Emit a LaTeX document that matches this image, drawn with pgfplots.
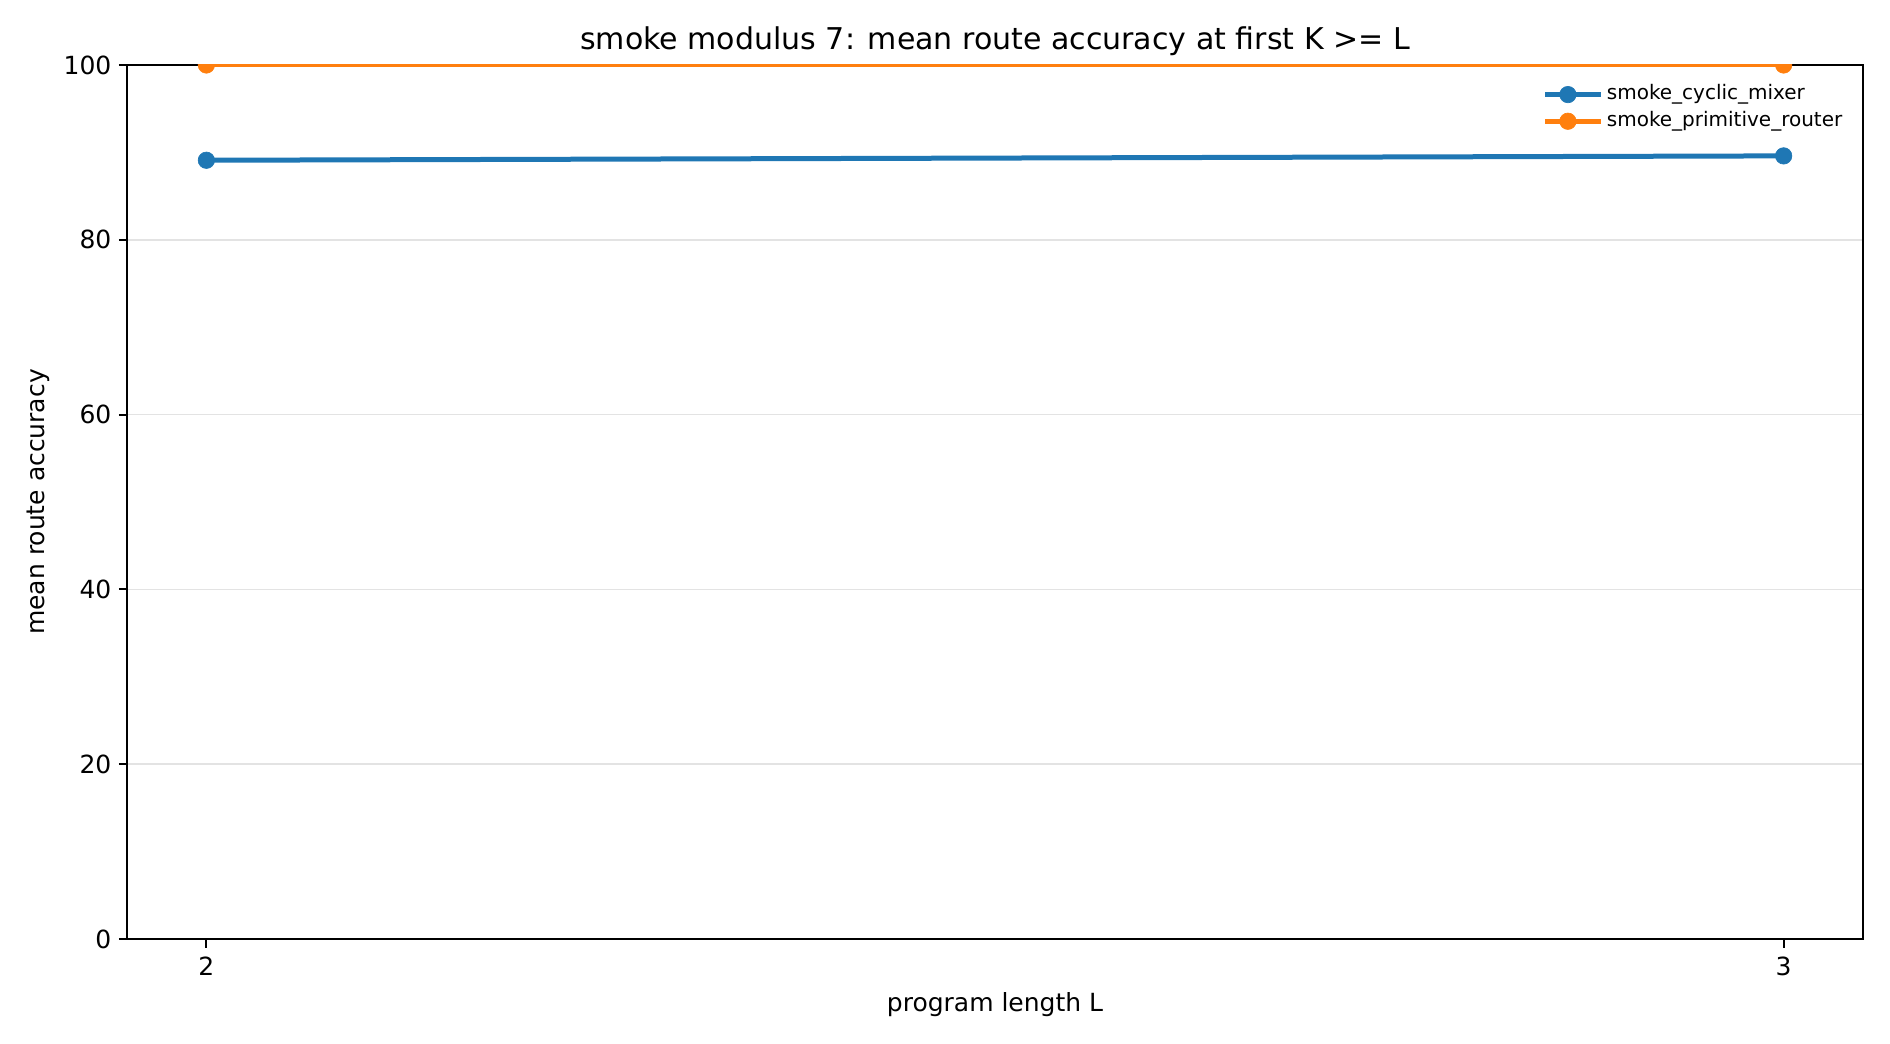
\documentclass[border=0pt]{standalone}
\usepackage{fontspec}
\setmainfont{DejaVu Sans}
\usepackage{pgfplots}
\pgfplotsset{compat=1.18}
\definecolor{mplblue}{HTML}{1F77B4}
\definecolor{mplorange}{HTML}{FF7F0E}
\begin{document}
\begin{tikzpicture}
\path[use as bounding box] (-61.2pt,-50.4pt) rectangle (846pt,450.7pt);
\begin{axis}[
scale only axis,
width=832.8pt,
height=419.5pt,
xmin=1.95, xmax=3.05,
ymin=0, ymax=100,
xtick={2,3},
ytick={0,20,40,60,80,100},
ymajorgrids,
grid style={gray!22, line width=0.7pt},
axis line style={line width=0.96pt},
tick style={black, line width=0.96pt},
tick align=outside,
major tick length=4.2pt,
xtick pos=bottom, ytick pos=left,
tick label style={font=\fontsize{12}{14}\selectfont},
xticklabel style={yshift=-1pt},
/pgf/number format/assume math mode=true,
xlabel={program length L},
ylabel={mean route accuracy},
label style={font=\fontsize{12}{14}\selectfont},
xlabel style={at={(axis description cs:0.5,0)}, anchor=base, yshift=-35pt},
ylabel style={at={(axis description cs:-0.0514,0.5)}, anchor=center},
title={smoke modulus 7: mean route accuracy at first K >= L},
title style={font=\fontsize{14.4}{17}\selectfont, at={(axis description cs:0.5,1)}, anchor=base, yshift=1.2pt},
clip mode=individual,
clip marker paths=true,
legend style={draw=none, fill=none, font=\fontsize{9.6}{11}\selectfont,
  at={(axis description cs:1,1)}, anchor=north east, xshift=-8pt, yshift=-8pt,
  inner sep=0pt, row sep=0.8pt,
  nodes={inner sep=1.5pt, text height=7pt, text depth=2pt},
  legend cell align=left},
legend image code/.code={
  \path (0pt,0pt) -- (27pt,0pt);
  \draw[#1, mark=none] (0pt,0pt) -- (22pt,0pt);
  \draw[#1, only marks] plot coordinates {(11pt,0pt)};
},
]
\addplot[color=mplblue, line width=2.4pt, mark=*, mark size=3.95pt,
  mark options={solid, fill=mplblue, draw=mplblue, line width=0.3pt}] coordinates {
(2,89.1)
(3,89.6)
};
\addlegendentry{smoke\_cyclic\_mixer}
\addplot[color=mplorange, line width=2.4pt, mark=*, mark size=3.95pt,
  mark options={solid, fill=mplorange, draw=mplorange, line width=0.3pt}] coordinates {
(2,100)
(3,100)
};
\addlegendentry{smoke\_primitive\_router}
\end{axis}
\end{tikzpicture}
\end{document}
